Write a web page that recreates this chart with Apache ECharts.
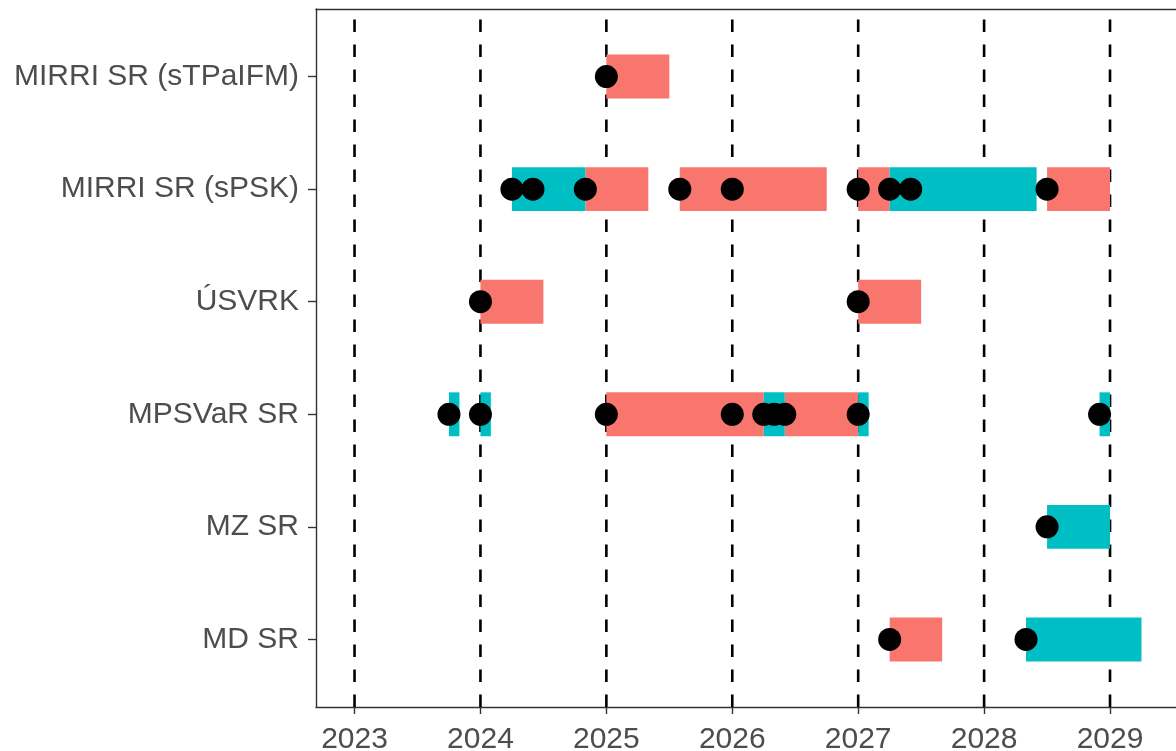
<!DOCTYPE html>
<html><head><meta charset="utf-8">
<script src="https://cdn.jsdelivr.net/npm/echarts@6/dist/echarts.min.js"></script>
<style>html,body{margin:0;padding:0;background:#fff}#c{width:1176px;height:751px}</style>
</head><body><div id="c"></div>
<script>
// Categories, top to bottom
const categories = ['MIRRI SR (sTPaIFM)', 'MIRRI SR (sPSK)', 'ÚSVRK', 'MPSVaR SR', 'MZ SR', 'MD SR'];
const yearTicks = [2023, 2024, 2025, 2026, 2027, 2028, 2029];

// Bar segments
const segCategory = [
  'MIRRI SR (sTPaIFM)',
  'MIRRI SR (sPSK)', 'MIRRI SR (sPSK)', 'MIRRI SR (sPSK)', 'MIRRI SR (sPSK)', 'MIRRI SR (sPSK)', 'MIRRI SR (sPSK)',
  'ÚSVRK', 'ÚSVRK',
  'MPSVaR SR', 'MPSVaR SR', 'MPSVaR SR', 'MPSVaR SR', 'MPSVaR SR', 'MPSVaR SR', 'MPSVaR SR',
  'MZ SR',
  'MD SR', 'MD SR'
];
const segStart = [
  2025.0,
  2024.25, 2024.833, 2025.583, 2027.0, 2027.25, 2028.5,
  2024.0, 2027.0,
  2023.75, 2024.0, 2025.0, 2026.25, 2026.417, 2027.0, 2028.917,
  2028.5,
  2027.25, 2028.333
];
const segEnd = [
  2025.5,
  2024.833, 2025.333, 2026.75, 2027.25, 2028.417, 2029.0,
  2024.5, 2027.5,
  2023.833, 2024.083, 2026.25, 2026.417, 2027.0, 2027.083, 2029.0,
  2029.0,
  2027.667, 2029.25
];
const segGroup = [
  'A',
  'B', 'A', 'A', 'A', 'B', 'A',
  'A', 'A',
  'B', 'B', 'A', 'B', 'A', 'B', 'B',
  'B',
  'A', 'B'
];

// Event points
const pointCategory = [
  'MIRRI SR (sTPaIFM)',
  'MIRRI SR (sPSK)', 'MIRRI SR (sPSK)', 'MIRRI SR (sPSK)', 'MIRRI SR (sPSK)', 'MIRRI SR (sPSK)',
  'MIRRI SR (sPSK)', 'MIRRI SR (sPSK)', 'MIRRI SR (sPSK)', 'MIRRI SR (sPSK)',
  'ÚSVRK', 'ÚSVRK',
  'MPSVaR SR', 'MPSVaR SR', 'MPSVaR SR', 'MPSVaR SR', 'MPSVaR SR', 'MPSVaR SR', 'MPSVaR SR', 'MPSVaR SR', 'MPSVaR SR',
  'MZ SR',
  'MD SR', 'MD SR'
];
const pointTime = [
  2025.0,
  2024.25, 2024.417, 2024.833, 2025.583, 2026.0,
  2027.0, 2027.25, 2027.417, 2028.5,
  2024.0, 2027.0,
  2023.75, 2024.0, 2025.0, 2026.0, 2026.25, 2026.333, 2026.417, 2027.0, 2028.917,
  2028.5,
  2027.25, 2028.333
];

const groupColors = { A: '#F8766D', B: '#00BFC4' };
const yMin = 0.4, yMax = categories.length + 0.6;
const yOf = c => categories.length - categories.indexOf(c);
const yValues = categories.map((c, i) => categories.length - i);

const textFont = { fontFamily: 'Liberation Sans, Arial, sans-serif', fontSize: 30, color: '#4D4D4D' };
const axisStroke = { color: '#333', width: 1.4 };

function barSeries(group) {
  const data = [];
  segGroup.forEach((g, i) => {
    if (g === group) data.push([segStart[i], segEnd[i], yOf(segCategory[i])]);
  });
  return {
    type: 'custom',
    data: data,
    encode: { x: [0, 1], y: 2 },
    renderItem: function (params, api) {
      const y = api.value(2);
      const s = api.coord([api.value(0), y]);
      const e = api.coord([api.value(1), y]);
      const h = api.size([0, 0.39])[1];
      return {
        type: 'rect',
        shape: { x: s[0], y: s[1] - h / 2, width: e[0] - s[0], height: h },
        style: { fill: groupColors[group] }
      };
    }
  };
}

const chart = echarts.init(document.getElementById('c'));
chart.setOption({
  animation: false,
  backgroundColor: '#fff',
  grid: { left: 316, top: 9, right: 0, height: 698, show: false, containLabel: false, outerBoundsMode: 'none' },
  xAxis: [
    {
      type: 'value', min: 2022.694, max: 2029.524, position: 'bottom',
      axisLine: { show: true, lineStyle: axisStroke },
      axisTick: { show: true, customValues: yearTicks, length: 7, lineStyle: axisStroke },
      axisLabel: Object.assign({ customValues: yearTicks, margin: 18, formatter: v => String(v) }, textFont),
      splitLine: { show: false }
    },
    {
      type: 'value', min: 2022.694, max: 2029.524, position: 'top',
      axisLine: { show: true, lineStyle: axisStroke },
      axisTick: { show: false }, axisLabel: { show: false }, splitLine: { show: false }
    }
  ],
  yAxis: {
    type: 'value', min: yMin, max: yMax,
    axisLine: { show: true, lineStyle: axisStroke },
    axisTick: { show: true, customValues: yValues, length: 8, lineStyle: axisStroke },
    axisLabel: Object.assign({ customValues: yValues, margin: 17, formatter: v => categories[categories.length - Math.round(v)] }, textFont),
    splitLine: { show: false }
  },
  series: [
    {
      type: 'custom',
      data: yearTicks.map(y => [y, yMin]),
      encode: { x: 0, y: 1 },
      silent: true,
      renderItem: function (params, api) {
        const b = api.coord([api.value(0), yMin]);
        const t = api.coord([api.value(0), yMax]);
        return {
          type: 'line',
          shape: { x1: b[0], y1: b[1], x2: t[0], y2: t[1] },
          style: { stroke: '#000', lineWidth: 2.6, lineDash: [12.5, 12.5] }
        };
      }
    },
    barSeries('A'),
    barSeries('B'),
    {
      type: 'scatter',
      data: pointTime.map((t, i) => [t, yOf(pointCategory[i])]),
      symbol: 'circle',
      symbolSize: 23,
      itemStyle: { color: '#000', opacity: 1 }
    }
  ]
});
</script>
</body></html>
